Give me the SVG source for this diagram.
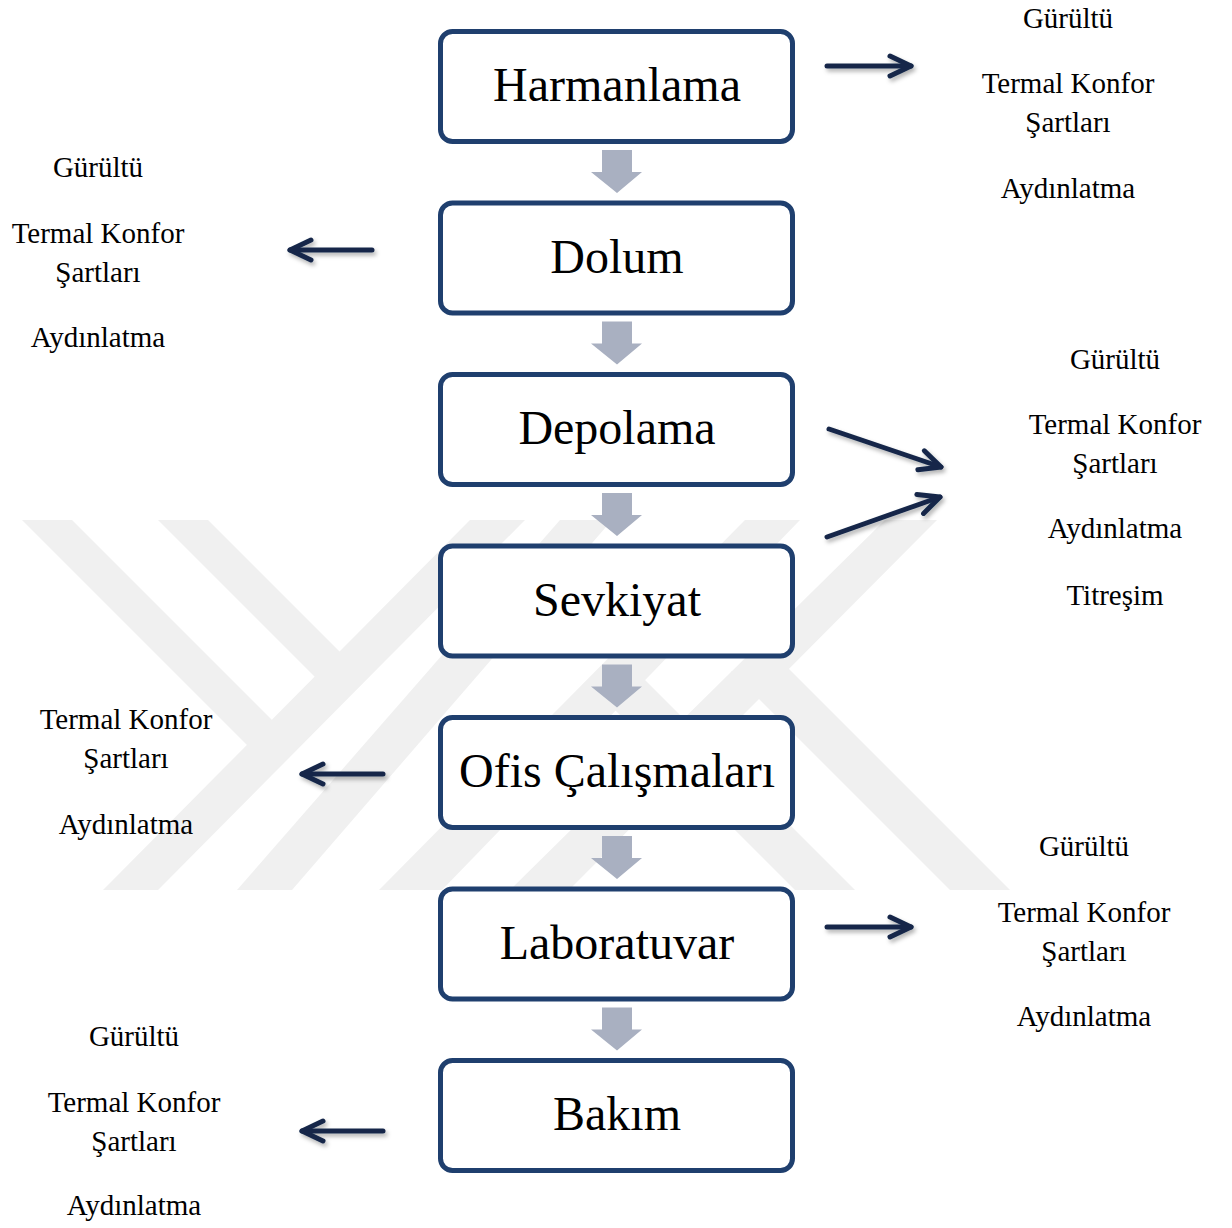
<svg xmlns="http://www.w3.org/2000/svg" width="1232" height="1228" viewBox="0 0 1232 1228">
<style>
.box{fill:#ffffff;stroke:#1f3f6e;stroke-width:5}
.bt{font-family:"Liberation Serif","Times New Roman",serif;font-size:48px;fill:#000;text-anchor:middle}
.lb{font-family:"Liberation Serif","Times New Roman",serif;font-size:29px;fill:#000;text-anchor:middle}
.wm{fill:#f0f0f0}
.flow{fill:#a9b0c1}
.nav{fill:none;stroke:#14284a;stroke-width:5;stroke-linecap:round}
</style>
<defs>
<marker id="head" markerUnits="userSpaceOnUse" viewBox="-26 -15 30 30" refX="0" refY="0" markerWidth="30" markerHeight="30" orient="auto" overflow="visible">
<path d="M-21,-10 L0,0 L-21,10" fill="none" stroke="#14284a" stroke-width="5" stroke-linecap="round" stroke-linejoin="round"/>
</marker>
<filter id="sh" x="-20%" y="-50%" width="140%" height="200%">
<feDropShadow dx="2" dy="3" stdDeviation="2" flood-color="#000" flood-opacity="0.3"/>
</filter>
<polygon id="down" points="602,150 632,150 632,172 642,172 617,193 591,172 602,172"/>
</defs>

<g id="watermark">
<polygon class="wm" points="470,520 525,520 158,890 103,890"/>
<polygon class="wm" points="560,520 612,520 292,890 237,890"/>
<polygon class="wm" points="745,520 800,520 442,890 379,890"/>
<polygon class="wm" points="885,520 937,520 569,890 510,890"/>
<polygon class="wm" points="22,520 72,520 299,747 247,745"/>
<polygon class="wm" points="158,520 208,520 367,679 315,677"/>
<polygon class="wm" points="731,671 789,669 1010,890 950,890"/>
<polygon class="wm" points="586,681 645,680 855,890 795,890"/>
</g>

<g id="connectors">
<use href="#down" class="flow"/>
<use href="#down" class="flow" transform="translate(0,171.5)"/>
<use href="#down" class="flow" transform="translate(0,343)"/>
<use href="#down" class="flow" transform="translate(0,514.5)"/>
<use href="#down" class="flow" transform="translate(0,686)"/>
<use href="#down" class="flow" transform="translate(0,857.5)"/>
<g filter="url(#sh)">
<path class="nav" d="M827,66 L911,66" marker-end="url(#head)"/>
<path class="nav" d="M372,250 L290,250" marker-end="url(#head)"/>
<path class="nav" d="M829,429 L941,467" marker-end="url(#head)"/>
<path class="nav" d="M827,537 L940,497" marker-end="url(#head)"/>
<path class="nav" d="M383,774 L302,774" marker-end="url(#head)"/>
<path class="nav" d="M827,927 L911,927" marker-end="url(#head)"/>
<path class="nav" d="M383,1131 L302,1131" marker-end="url(#head)"/>
</g>
</g>

<g id="n-harmanlama"><rect class="box" x="440.5" y="31.5" width="352" height="110" rx="12"/><text class="bt" x="617" y="101">Harmanlama</text></g>
<g id="n-dolum"><rect class="box" x="440.5" y="203" width="352" height="110" rx="12"/><text class="bt" x="617" y="272.5">Dolum</text></g>
<g id="n-depolama"><rect class="box" x="440.5" y="374.5" width="352" height="110" rx="12"/><text class="bt" x="617" y="444">Depolama</text></g>
<g id="n-sevkiyat"><rect class="box" x="440.5" y="546" width="352" height="110" rx="12"/><text class="bt" x="617" y="615.5">Sevkiyat</text></g>
<g id="n-ofis"><rect class="box" x="440.5" y="717.5" width="352" height="110" rx="12"/><text class="bt" x="617" y="787">Ofis Çalışmaları</text></g>
<g id="n-laboratuvar"><rect class="box" x="440.5" y="889" width="352" height="110" rx="12"/><text class="bt" x="617" y="958.5">Laboratuvar</text></g>
<g id="n-bakim"><rect class="box" x="440.5" y="1060.5" width="352" height="110" rx="12"/><text class="bt" x="617" y="1130">Bakım</text></g>

<g id="l-harmanlama">
<text class="lb" x="1068" y="28">Gürültü</text>
<text class="lb" x="1068" y="93">Termal Konfor</text>
<text class="lb" x="1068" y="132">Şartları</text>
<text class="lb" x="1068" y="198">Aydınlatma</text>
</g>
<g id="l-dolum">
<text class="lb" x="98" y="177">Gürültü</text>
<text class="lb" x="98" y="243">Termal Konfor</text>
<text class="lb" x="98" y="282">Şartları</text>
<text class="lb" x="98" y="347">Aydınlatma</text>
</g>
<g id="l-depolama-sevkiyat">
<text class="lb" x="1115" y="369">Gürültü</text>
<text class="lb" x="1115" y="434">Termal Konfor</text>
<text class="lb" x="1115" y="473">Şartları</text>
<text class="lb" x="1115" y="538">Aydınlatma</text>
<text class="lb" x="1115" y="605">Titreşim</text>
</g>
<g id="l-ofis">
<text class="lb" x="126" y="729">Termal Konfor</text>
<text class="lb" x="126" y="768">Şartları</text>
<text class="lb" x="126" y="834">Aydınlatma</text>
</g>
<g id="l-laboratuvar">
<text class="lb" x="1084" y="856">Gürültü</text>
<text class="lb" x="1084" y="922">Termal Konfor</text>
<text class="lb" x="1084" y="961">Şartları</text>
<text class="lb" x="1084" y="1026">Aydınlatma</text>
</g>
<g id="l-bakim">
<text class="lb" x="134" y="1046">Gürültü</text>
<text class="lb" x="134" y="1112">Termal Konfor</text>
<text class="lb" x="134" y="1151">Şartları</text>
<text class="lb" x="134" y="1215">Aydınlatma</text>
</g>
</svg>
